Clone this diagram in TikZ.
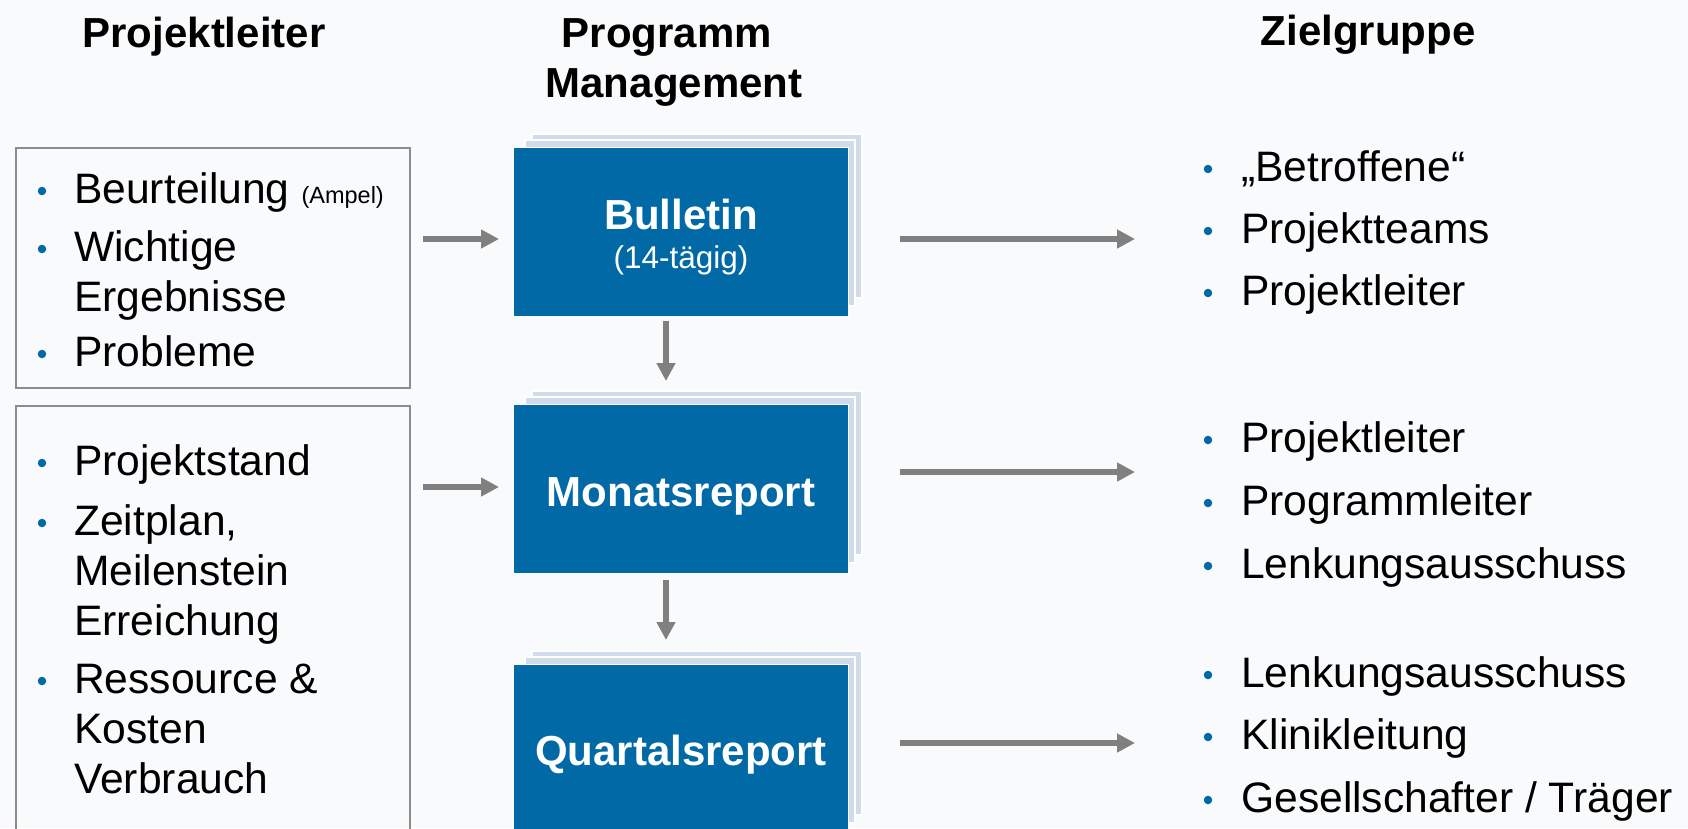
\documentclass[tikz,border=0pt]{standalone}
\usepackage{fontspec}
\setmainfont{Liberation Sans}
\usetikzlibrary{arrows.meta}
\definecolor{bgcol}{RGB}{249,250,252}
\definecolor{mainblue}{RGB}{0,105,166}
\definecolor{layerblue}{RGB}{208,220,236}
\definecolor{framegray}{RGB}{140,140,140}
\definecolor{arrowgray}{RGB}{128,128,128}

\begin{document}
\begin{tikzpicture}[x=1pt,y=-1pt,
  headtxt/.style={font=\fontsize{42}{50}\selectfont\bfseries, anchor=base, inner sep=0pt},
  itemtxt/.style={font=\fontsize{42.6}{50}\selectfont, anchor=base west, inner sep=0pt},
  boxtitle/.style={font=\fontsize{42}{50}\selectfont\bfseries, text=white, anchor=base, inner sep=0pt},
  boxsub/.style={font=\fontsize{31.5}{38}\selectfont, text=white, anchor=base, inner sep=0pt},
  bulletdot/.style={circle, fill=mainblue, inner sep=0pt, minimum size=8.5pt},
  leftframe/.style={rectangle, draw=framegray, line width=1.5pt, inner sep=0pt, anchor=north west, minimum width=394pt},
  stacklayer/.style={fill=layerblue, draw=white, line width=1.5pt},
  stackfront/.style={rectangle, fill=mainblue, draw=white, line width=1pt, inner sep=0pt, anchor=north west, minimum width=335pt, minimum height=169pt},
  flow/.style={draw=arrowgray, line width=6pt, -{Triangle[length=18pt,width=18pt]}},
]
\useasboundingbox (0,0) rectangle (1688,828);
\clip (0,0) rectangle (1688,828);
\fill[bgcol] (0,0) rectangle (1688,828);

% column headings
\node[headtxt] (hPL) at (204,47) {Projektleiter};
\node[headtxt] (hPM1) at (667,47) {Programm};
\node[headtxt] (hPM2) at (674,97) {Management};
\node[headtxt] (hZG) at (1368,45) {Zielgruppe};

% input frames on the left
\node[leftframe, minimum height=240pt] (lf1) at (15,147) {};
\node[leftframe, minimum height=440pt] (lf2) at (15,405) {};

% first input list
\node[bulletdot] (ld1) at (42,191) {};
\node[itemtxt] (lt1) at (74,203) {Beurteilung {\fontsize{23.5}{28}\selectfont (Ampel)}};
\node[bulletdot] (ld2) at (42,249) {};
\node[itemtxt] (lt2) at (74,261) {Wichtige};
\node[itemtxt] (lt2b) at (74,311) {Ergebnisse};
\node[bulletdot] (ld3) at (42,354) {};
\node[itemtxt] (lt3) at (74,366) {Probleme};

% second input list
\node[bulletdot] (ld4) at (42,463) {};
\node[itemtxt] (lt4) at (74,475) {Projektstand};
\node[bulletdot] (ld5) at (42,523) {};
\node[itemtxt] (lt5) at (74,535) {Zeitplan,};
\node[itemtxt] (lt5b) at (74,585) {Meilenstein};
\node[itemtxt] (lt5c) at (74,635) {Erreichung};
\node[bulletdot] (ld6) at (42,681) {};
\node[itemtxt] (lt6) at (74,693) {Ressource \&};
\node[itemtxt] (lt6b) at (74,743) {Kosten};
\node[itemtxt] (lt6c) at (74,793) {Verbrauch};

% report stacks
\draw[stacklayer] (532,134) rectangle (862,298);
\draw[stacklayer] (525,140) rectangle (855,306);
\node[stackfront] (bul) at (513,147) {};
\node[boxtitle] (bulT) at (681,229) {Bulletin};
\node[boxsub] (bulS) at (681,268) {(14-tägig)};

\draw[stacklayer] (532,391) rectangle (862,555);
\draw[stacklayer] (525,397) rectangle (855,563);
\node[stackfront] (mon) at (513,404) {};
\node[boxtitle] (monT) at (681,506) {Monatsreport};

\draw[stacklayer] (532,651) rectangle (862,815);
\draw[stacklayer] (525,657) rectangle (855,823);
\node[stackfront] (qua) at (513,664) {};
\node[boxtitle] (quaT) at (681,765) {Quartalsreport};

% arrow end points
\coordinate (in1s) at (423,239);
\coordinate (in1e) at (499,239);
\coordinate (in2s) at (423,487);
\coordinate (in2e) at (499,487);
\coordinate (out1s) at (900,239);
\coordinate (out1e) at (1135,239);
\coordinate (out2s) at (900,472);
\coordinate (out2e) at (1135,472);
\coordinate (out3s) at (900,743);
\coordinate (out3e) at (1135,743);
\coordinate (dn1s) at (666,321);
\coordinate (dn1e) at (666,381);
\coordinate (dn2s) at (666,580);
\coordinate (dn2e) at (666,640);

\draw[flow] (in1s) -- (in1e);
\draw[flow] (in2s) -- (in2e);
\draw[flow] (out1s) -- (out1e);
\draw[flow] (out2s) -- (out2e);
\draw[flow] (out3s) -- (out3e);
\draw[flow] (dn1s) -- (dn1e);
\draw[flow] (dn2s) -- (dn2e);

% audiences on the right
\node[bulletdot] (rd1) at (1208,169) {};
\node[itemtxt] (rt1) at (1241,181) {„Betroffene“};
\node[bulletdot] (rd2) at (1208,231) {};
\node[itemtxt] (rt2) at (1241,243) {Projektteams};
\node[bulletdot] (rd3) at (1208,293) {};
\node[itemtxt] (rt3) at (1241,305) {Projektleiter};

\node[bulletdot] (rd4) at (1208,440) {};
\node[itemtxt] (rt4) at (1241,452) {Projektleiter};
\node[bulletdot] (rd5) at (1208,503) {};
\node[itemtxt] (rt5) at (1241,515) {Programmleiter};
\node[bulletdot] (rd6) at (1208,566) {};
\node[itemtxt] (rt6) at (1241,578) {Lenkungsausschuss};

\node[bulletdot] (rd7) at (1208,675) {};
\node[itemtxt] (rt7) at (1241,687) {Lenkungsausschuss};
\node[bulletdot] (rd8) at (1208,737) {};
\node[itemtxt] (rt8) at (1241,749) {Klinikleitung};
\node[bulletdot] (rd9) at (1208,800) {};
\node[itemtxt] (rt9) at (1241,812) {Gesellschafter / Träger};
\end{tikzpicture}
\end{document}
